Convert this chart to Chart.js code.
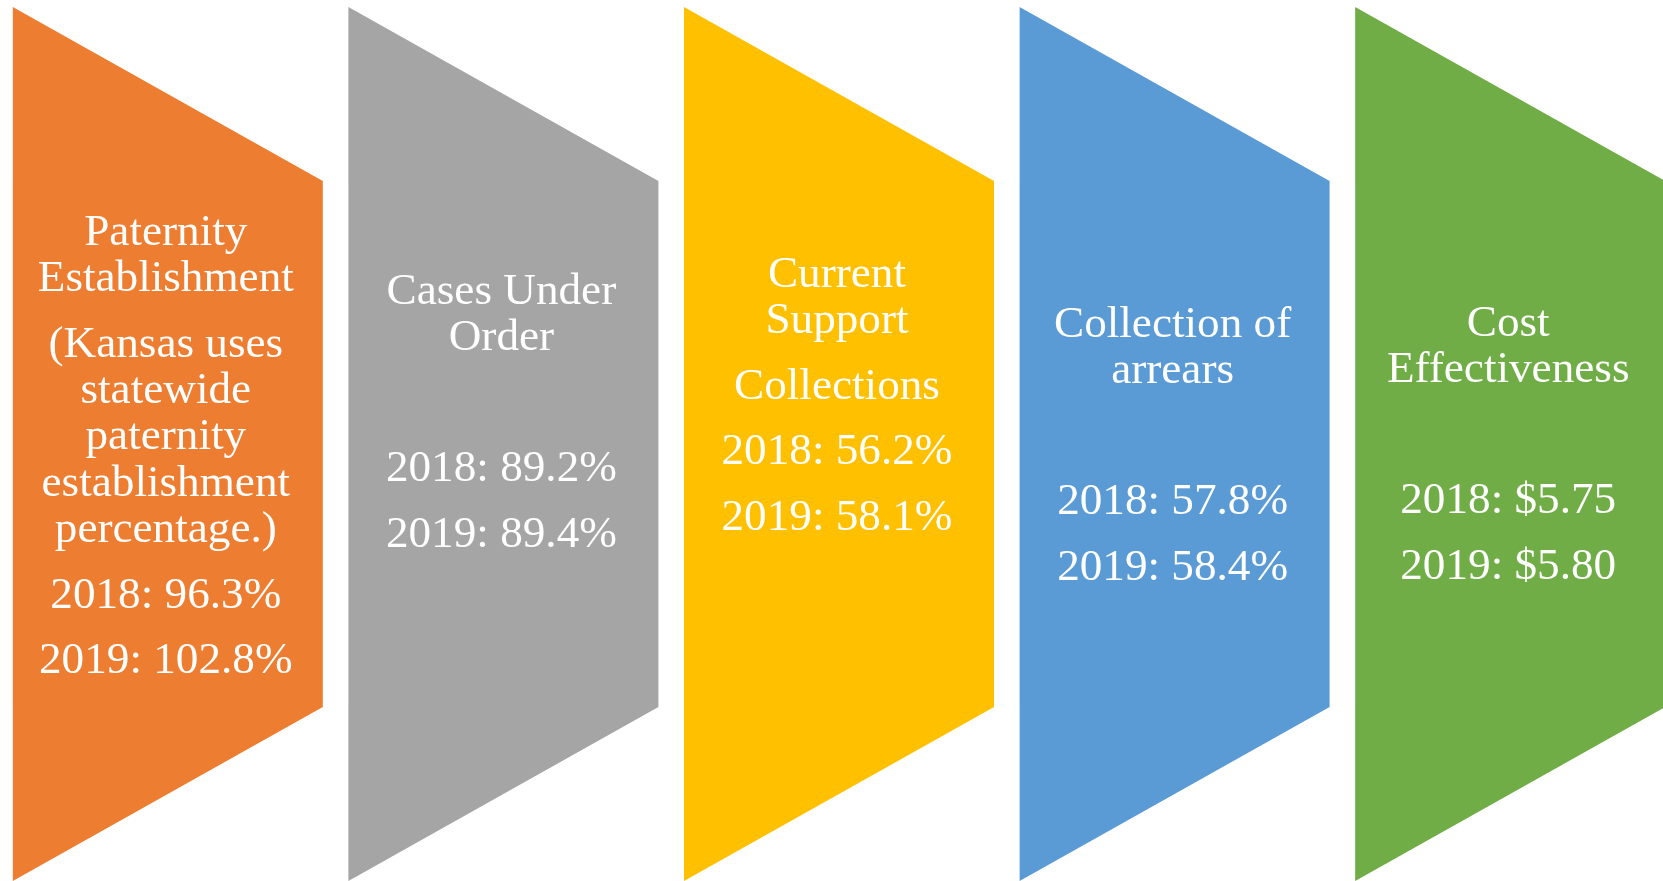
<!DOCTYPE html>
<html>
<head>
<meta charset="utf-8">
<script src="https://cdn.jsdelivr.net/npm/chart.js@4.4.0/dist/chart.umd.min.js"></script>
<style>
  html, body { margin: 0; padding: 0; background: #fff; overflow: hidden; }
  #wrap { width: 1678px; height: 881px; position: relative; }
</style>
</head>
<body>
<div id="wrap"><canvas id="plot"></canvas></div>
<script>
// measures, one per panel
const categories = [
  "Paternity Establishment",
  "Cases Under Order",
  "Current Support Collections",
  "Collection of arrears",
  "Cost Effectiveness"
];
// title paragraphs as they are wrapped in the picture ([] = empty paragraph)
const titleParas = [
  [["Paternity", "Establishment"], ["(Kansas uses", "statewide", "paternity", "establishment", "percentage.)"]],
  [["Cases Under", "Order"], []],
  [["Current", "Support"], ["Collections"]],
  [["Collection of", "arrears"], []],
  [["Cost", "Effectiveness"], []]
];
const years = ["2018", "2019"];
const values2018 = [96.3, 89.2, 56.2, 57.8, 5.75];
const values2019 = [102.8, 89.4, 58.1, 58.4, 5.80];
const units = ["%", "%", "%", "%", "$"];

const COLORS = ["#ED7D31", "#A5A5A5", "#FFC000", "#5B9BD5", "#70AD47"];

// layout of the shapes / text (style only)
const HALF_W = 155;
const TOP_GAP = 7;
const SHOULDER = 174;
const FONT = "45.2px 'Liberation Serif', 'Times New Roman', serif";
const LINE_STEP = 46.3;
const PARA_STEP = 65.5;
const TEXT_SHIFT = -2;
const FIRST_BASELINE = [245, 304, 287, 337, 336];

const fmt = (v, u) => u === "$" ? "$" + v.toFixed(2) : v.toFixed(1) + "%";

const panels = {
  id: "panels",
  beforeDatasetsDraw(chart) {
    const ctx = chart.ctx;
    const x = chart.scales.x;
    const top = chart.chartArea.top, bottom = chart.chartArea.bottom;
    chart.data.labels.forEach((lab, i) => {
      const cx = x.getPixelForValue(i);
      const l = cx - HALF_W, r = cx + HALF_W;
      ctx.save();
      ctx.fillStyle = COLORS[i];
      ctx.beginPath();
      ctx.moveTo(l, top + TOP_GAP);
      ctx.lineTo(r, top + TOP_GAP + SHOULDER);
      ctx.lineTo(r, bottom - SHOULDER);
      ctx.lineTo(l, bottom);
      ctx.closePath();
      ctx.fill();
      ctx.restore();
    });
  },
  afterDatasetsDraw(chart) {
    const ctx = chart.ctx;
    const x = chart.scales.x;
    const top = chart.chartArea.top;
    ctx.save();
    ctx.fillStyle = "#fff";
    ctx.font = FONT;
    ctx.textAlign = "center";
    ctx.textBaseline = "alphabetic";
    chart.data.labels.forEach((lab, i) => {
      const cx = x.getPixelForValue(i) + TEXT_SHIFT;
      const paras = titleParas[i].slice();
      chart.data.datasets.forEach(ds => {
        paras.push([ds.label + ": " + fmt(ds.data[i], units[i])]);
      });
      let y = top + FIRST_BASELINE[i];
      paras.forEach((p, pi) => {
        if (pi > 0) y += PARA_STEP - LINE_STEP;
        if (p.length === 0) { y += LINE_STEP; return; }
        p.forEach(line => {
          ctx.fillText(line, cx, y);
          y += LINE_STEP;
        });
      });
    });
    ctx.restore();
  }
};

const chart = new Chart(document.querySelector("#plot"), {
  type: "bar",
  data: {
    labels: categories,
    datasets: [
      { label: years[0], data: values2018, backgroundColor: "rgba(0,0,0,0)" },
      { label: years[1], data: values2019, backgroundColor: "rgba(0,0,0,0)" }
    ]
  },
  options: {
    responsive: true,
    maintainAspectRatio: false,
    animation: false,
    layout: { padding: 0 },
    plugins: { legend: { display: false }, tooltip: { enabled: false } },
    scales: {
      x: { display: false, offset: true },
      y: { display: false, min: 0, max: 120 }
    }
  },
  plugins: [panels]
});
</script>
</body>
</html>
